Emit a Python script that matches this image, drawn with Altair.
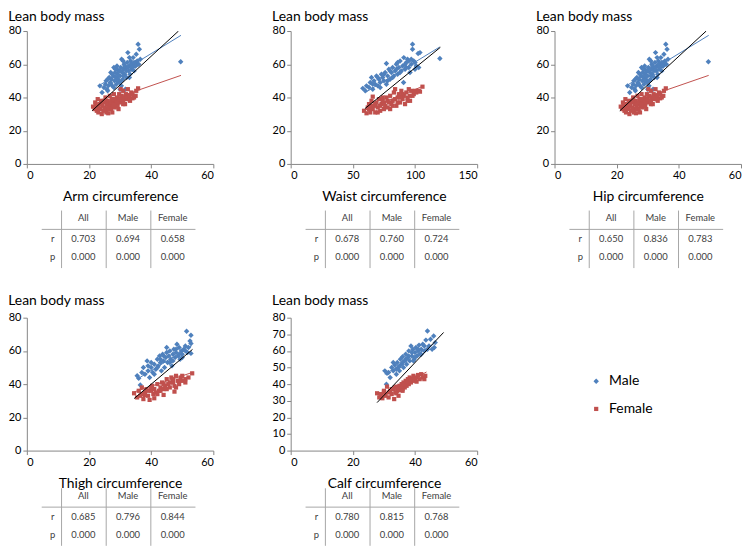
import altair as alt
import pandas as pd

BLUE = "#4F81BD"
RED = "#C0504D"
GRID = "#A6A6A6"
FONT = "Lato"

# ---------------- data (x = circumference, y = lean body mass) ----------------
arm_male = [(23.5,47),(24.2,43),(24.8,46),(25.3,48),(25.5,50),(25.8,45),(26.2,47),(26.5,52),(26.8,49),(27.0,55),
            (27.2,51),(27.5,47),(27.8,53),(28.0,58),(28.2,50),(28.4,55),(28.6,52),(28.8,48),(29.0,57),(29.2,54),
            (29.4,51),(29.6,56),(29.8,49),(30.0,53),(30.2,58),(30.4,47),(30.5,63),(30.7,55),(30.9,51),(31.1,57),
            (31.3,60),(31.5,54),(31.7,45),(31.9,58),(32.1,52),(32.3,61),(32.5,67),(32.7,56),(32.9,59),(33.2,54),
            (33.4,62),(33.6,57),(33.9,60),(34.2,64),(34.5,56),(34.8,59),(35.2,66),(35.5,60),(35.8,72),(36.2,69),
            (36.5,63),(35.0,61),(49.5,61.5),(26,51),(27,48.5),(27.5,54),(28.5,57),(29,50),(29.5,53),(30,56),
            (30.5,50),(31,53),(31.5,59),(32,56),(32.5,58),(33,52),(33.5,60),(34,58),(34.5,61),(35,59),
            (35.5,62),(36,60),(33,64),(31,62),(29,59),(28,46),(30,45),(26,44)]
arm_female = [(21.3,34.5),(21.8,33),(22.2,35),(22.5,32),(22.8,39),(23.0,31),(23.3,36),(23.6,33),(23.9,38),(24.1,30),
              (24.3,35),(24.6,32),(24.9,37),(25.1,34),(25.3,40),(25.6,31),(25.8,36),(26.0,38),(26.2,30.5),(26.4,34),
              (26.7,41),(26.9,36),(27.1,33),(27.3,39),(27.6,35),(27.8,37),(28.0,42),(28.3,34),(28.5,38),(28.8,36),
              (29.0,40),(29.2,35),(29.5,39),(29.7,42),(30.0,37),(30.2,45),(30.5,41),(30.8,38),(31.0,44),(31.3,40),
              (31.6,36),(31.9,42),(32.2,39),(32.5,45),(32.8,41),(33.2,38),(33.6,43),(34.0,39.5),(34.5,40),(35.2,44),
              (35.8,45.5),(22,37),(23,34),(24,36),(25,38),(26,33),(27,37),(28,39),(29,37),(30,39),(31,38),(32,40),
              (33,41),(34,42),(35,41),(29.5,33),(27.5,31),(25,33),(28,35.5),(31,36),(33,39)]

waist_male = [(58,45.5),(60,44),(61,47),(63,46),(64,49),(65,52),(66,45),(67,50),(68,48),(69,53),(70,47),(71,51),
              (72,49),(73,54),(74,52),(75,50),(76,55),(77,60.5),(77,48),(78,53),(79,57),(80,51),(81,55),(82,58),
              (83,53),(84,56),(85,60),(86,54),(87,58),(88,62),(89,56),(90,59),(90.8,49),(91,64),(92,57),(93,61),
              (94,63),(95,58),(96,55),(97,60),(98,72),(98,69),(99,62),(100,57),(101,59),(102.5,66.5),(104,67),
              (103,58),(120,63.5),(70,52),(75,54),(80,56),(85,57),(88,55),(92,60),(95,62),(82,52),(78,50),(86,61),
              (93,58),(100,61),(97,63),(72,46),(66,48)]
waist_female = [(59,32),(61,30.5),(62,34),(63,36),(64,31),(65,38),(66,40.5),(66,33),(67,35),(68,31),(69,37),(70,34),
                (71,39),(72,32),(73,36),(74,38),(75,33),(76,35),(77,40),(78,34),(79,37),(80,41),(81,36),(82,38),
                (83,43),(84,39),(84,45),(85,35),(86,40),(87,42),(88,37),(89,44),(90,39),(91,41),(92,36),(93,43),
                (94,40),(95,45),(96,38),(97,44),(98,41),(99,42),(100,44),(101,43),(103,44),(104,43.5),(106,46.5),
                (63,33),(68,36),(72,35),(75,37),(78,38),(82,35),(86,37),(90,42),(94,38),(70,31),(80,33),(74,40),
                (88,40),(96,41),(65,35)]

# the hip panel of the original figure repeats the arm scatter
hip_male = list(arm_male)
hip_female = list(arm_female)

thigh_male = [(35.5,45),(36,43.5),(36.5,39.5),(37,47),(37.5,50),(38,46),(38.7,54),(39,48),(39.5,44),(40,50),(40.5,47),
              (41,52),(41.5,49),(42,55),(42.3,51),(42.7,57),(43,53),(43.3,48),(43.7,58),(44,54),(44.3,50),(44.7,56),
              (45,59),(45.3,53),(45.7,57),(46,60),(46.3,55),(46.7,51),(47,58),(47.3,61),(47.7,56),(48,59),(48.3,64),
              (48.7,57),(49,62),(49.3,55),(49.7,60),(50,58),(50.5,61),(51,63),(51.4,71.8),(51.7,59),(52,62),
              (52.8,69.4),(52.8,64.5),(52.8,58.5),(52.5,66),(40,53),(42,50),(44,57),(46,53),(48,61),(50,56),(45,62),
              (43,55),(47,54),(49,58),(51,60),(41,46),(39,51)]
thigh_female = [(34.5,34.5),(35.5,32),(36,36),(36.5,33),(37,38),(37.5,31),(38,35),(38.5,37),(39,33),(39.5,30.5),(40,36),
                (40.3,39),(40.7,34),(41,37),(41.5,35),(42,40),(42.5,36),(43,38),(43.5,41),(44,37),(44.5,39),(45,43),
                (45.5,40),(46,38),(46.5,44),(47,41),(47.5,39),(48,45),(48.5,42),(49,40),(49.5,44),(50,42),(51,43),
                (52,44),(53.2,46.5),(47.5,35.5),(44,33.5),(41,31.5),(38,33.5),(40,38),(42,34),(43,36),(45,37),(46,41),
                (47,43),(49,42),(50,45),(39,36),(44,40),(48,38),(51,41),(37,34)]

calf_male = [(30.3,48),(30.8,40),(31,46.5),(31.5,47),(32,44),(32.5,50),(33,48),(33.5,51.5),(34,46),(34.3,53),(34.7,50),
             (35,48),(35.3,55),(35.7,52),(36,56.5),(36.3,50),(36.7,54),(37,58),(37.3,52),(37.7,56),(38,60),(38.3,54),
             (38.7,63),(39,57),(39.3,61),(39.7,55),(40,59),(40.3,62),(40.7,57),(41,60),(41.3,63.5),(41.7,58),(42,61),
             (42.5,64),(43,60),(43.5,66.5),(44,72),(44.5,63),(45,67),(45.5,61),(46,69),(46.2,62),(46.5,65),(33,53),
             (35,51),(37,55),(38,57),(39,59),(40,56),(41,61),(42,58),(43,63),(36,53),(34,49),(44,61),(39.5,54)]
calf_female = [(27.8,34.5),(28.5,32),(29,33),(29.5,31.5),(30,35),(30.5,33),(31,38.5),(31.5,32),(32,36),(32.5,34),(33,37),
               (33.3,31),(33.7,35),(34,38.5),(34.3,36),(34.7,33),(35,39),(35.3,36.5),(35.7,40),(36,37),(36.3,41),
               (36.7,38),(37,42),(37.3,39),(37.7,43),(38,40),(38.3,44),(38.7,41),(39,43),(39.5,45),(40,42),(40.5,44),
               (41,45.5),(41.5,43),(42,46),(42.5,44),(43,43),(43.3,45),(30,36),(31.5,35),(32.5,37),(33.5,38),
               (34.5,37),(35.5,38),(36.5,40),(37.5,41),(38.5,42),(39.5,43),(34,34.5),(36,36),(40.5,41.5),(29,34)]

# linear trend lines: series -> (start point, end point)
arm_trend = {"Male": [(23.5,47.5),(49.6,77.4)], "Female": [(21.3,35.0),(49.6,53.3)], "All": [(21.0,32.0),(48.8,80.0)]}
waist_trend = {"Male": [(60.7,43.3),(119.9,70.4)], "Female": [(60.2,32.5),(106.5,46.8)], "All": [(59.7,33.3),(120.4,70.2)]}
hip_trend = dict(arm_trend)
thigh_trend = {"Male": [(35.5,43.0),(53.0,63.0)], "Female": [(34.2,35.1),(53.5,47.2)], "All": [(34.5,31.3),(53.3,60.9)]}
calf_trend = {"Male": [(30.3,45.9),(46.1,64.3)], "Female": [(28.5,32.0),(43.7,47.3)], "All": [(27.8,28.9),(49.2,71.1)]}

stat_cols = ["All", "Male", "Female"]
arm_r, arm_p = [0.703, 0.694, 0.658], [0.000, 0.000, 0.000]
waist_r, waist_p = [0.678, 0.760, 0.724], [0.000, 0.000, 0.000]
hip_r, hip_p = [0.650, 0.836, 0.783], [0.000, 0.000, 0.000]
thigh_r, thigh_p = [0.685, 0.796, 0.844], [0.000, 0.000, 0.000]
calf_r, calf_p = [0.780, 0.815, 0.768], [0.000, 0.000, 0.000]

# ---------------- layout / style ----------------
W, H, TH = 188, 134, 58
TX_DOM = [-0.5, 0, 0.5, 1, 1.5, 2, 2.5, 3, 3.5]
TX_RANGE = [15, 26, 35, 57, 80, 102, 125, 147, 170]
TY_DOM = [-0.5, 0, 0.5, 1, 2, 2.5]
TY_RANGE = [0, 8, 19, 29, 47, 58]
TITLE_SIZE = 14

legend = alt.Legend(title=None, orient="none", legendX=567, legendY=346, labelFontSize=14,
                    labelFont=FONT, labelColor="#000000", symbolSize=50, rowPadding=14,
                    labelOffset=6, padding=0)


def points_df(male, female):
    rows = [{"x": x, "y": y, "sex": "Male"} for x, y in male]
    rows += [{"x": x, "y": y, "sex": "Female"} for x, y in female]
    return pd.DataFrame(rows)


def trend_df(trend):
    rows = []
    for s, pts in trend.items():
        for x, y in pts:
            rows.append({"x": x, "y": y, "series": s})
    return pd.DataFrame(rows)


def scatter(xname, male, female, trend, xdom, xticks, yticks, title_offset):
    xe = alt.X("x:Q", scale=alt.Scale(domain=xdom, nice=False, zero=False),
               axis=alt.Axis(values=xticks, title=xname, titlePadding=9, labelOverlap=False))
    ye = alt.Y("y:Q", scale=alt.Scale(domain=[0, 80], nice=False, zero=False),
               axis=alt.Axis(values=yticks, title=None, labelOverlap=False))
    pts = alt.Chart(points_df(male, female)).mark_point(filled=True, opacity=1).encode(
        x=xe, y=ye,
        color=alt.Color("sex:N", scale=alt.Scale(domain=["Male", "Female"], range=[BLUE, RED]), legend=legend),
        shape=alt.Shape("sex:N", scale=alt.Scale(domain=["Male", "Female"], range=["diamond", "square"]), legend=legend),
        size=alt.Size("sex:N", scale=alt.Scale(domain=["Male", "Female"], range=[30, 18]), legend=None),
    )
    ln = alt.Chart(trend_df(trend)).mark_line(strokeWidth=1, clip=True).encode(
        x=xe, y=ye, detail="series:N",
        stroke=alt.Stroke("series:N", scale=alt.Scale(domain=["Male", "Female", "All"],
                                                     range=[BLUE, RED, "#000000"]), legend=None),
    )
    return alt.layer(pts, ln).properties(
        width=W, height=H,
        title=alt.TitleParams("Lean body mass", anchor="start", frame="bounds", offset=title_offset),
    )


def table(rvals, pvals):
    cells = [{"ci": ci, "ri": 0, "t": h} for ci, h in enumerate([""] + stat_cols)]
    cells += [{"ci": 0, "ri": 1, "t": "r"}, {"ci": 0, "ri": 2, "t": "p"}]
    for i, (r, p) in enumerate(zip(rvals, pvals)):
        cells.append({"ci": i + 1, "ri": 1, "t": f"{r:.3f}"})
        cells.append({"ci": i + 1, "ri": 2, "t": f"{p:.3f}"})
    xs = alt.Scale(domain=TX_DOM, range=TX_RANGE)
    ys = alt.Scale(domain=TY_DOM, range=TY_RANGE)
    txt = alt.Chart(pd.DataFrame(cells)).mark_text(fontSize=9.5, font=FONT, color="#404040").encode(
        x=alt.X("ci:Q", scale=xs, axis=None), y=alt.Y("ri:Q", scale=ys, axis=None), text="t:N")
    vdf = pd.DataFrame([{"ci": c, "r0": -0.5, "r1": 2.5} for c in (0.5, 1.5, 2.5)])
    vr = alt.Chart(vdf).mark_rule(color=GRID, strokeWidth=1).encode(
        x=alt.X("ci:Q", scale=xs, axis=None), y=alt.Y("r0:Q", scale=ys, axis=None), y2="r1:Q")
    hdf = pd.DataFrame([{"ri": 0.5, "c0": -0.5, "c1": 3.5}])
    hr = alt.Chart(hdf).mark_rule(color=GRID, strokeWidth=1).encode(
        x=alt.X("c0:Q", scale=xs, axis=None), x2="c1:Q", y=alt.Y("ri:Q", scale=ys, axis=None))
    return alt.layer(vr, hr, txt).properties(width=W, height=TH)


def panel(xname, male, female, trend, xdom, xticks, yticks, rvals, pvals, title_offset, gap):
    return alt.vconcat(
        scatter(xname, male, female, trend, xdom, xticks, yticks, title_offset),
        table(rvals, pvals),
        spacing=gap, bounds="flush",
    )


Y80 = [0, 20, 40, 60, 80]
p1 = panel("Arm circumference", arm_male, arm_female, arm_trend, [0, 60], [0, 20, 40, 60], Y80, arm_r, arm_p, 1, 47)
p2 = panel("Waist circumference", waist_male, waist_female, waist_trend, [0, 150], [0, 50, 100, 150], Y80, waist_r, waist_p, 1, 47)
p3 = panel("Hip circumference", hip_male, hip_female, hip_trend, [0, 60], [0, 20, 40, 60], Y80, hip_r, hip_p, 1, 47)
p4 = panel("Thigh circumference", thigh_male, thigh_female, thigh_trend, [0, 60], [0, 20, 40, 60], Y80, thigh_r, thigh_p, 4, 38)
p5 = panel("Calf circumference", calf_male, calf_female, calf_trend, [0, 60], [0, 20, 40, 60],
           [0, 10, 20, 30, 40, 50, 60, 70, 80], calf_r, calf_p, 4, 38)

row1 = alt.hconcat(p1, p2, p3, spacing=58)
row2 = alt.hconcat(p4, p5, spacing=58)

chart = alt.vconcat(row1, row2, spacing=25).properties(
    padding=0, background="white"
).configure_view(stroke=None).configure_axis(
    domainColor="#868686", tickColor="#868686", tickSize=4, grid=False,
    labelFont=FONT, labelFontSize=11, labelColor="#000000",
    titleFont=FONT, titleFontSize=TITLE_SIZE, titleFontWeight="normal", titleColor="#000000",
).configure_title(font=FONT, fontSize=TITLE_SIZE, fontWeight="normal", color="#000000")

chart.save("out.html", embed_options={"renderer": "svg", "actions": False})
